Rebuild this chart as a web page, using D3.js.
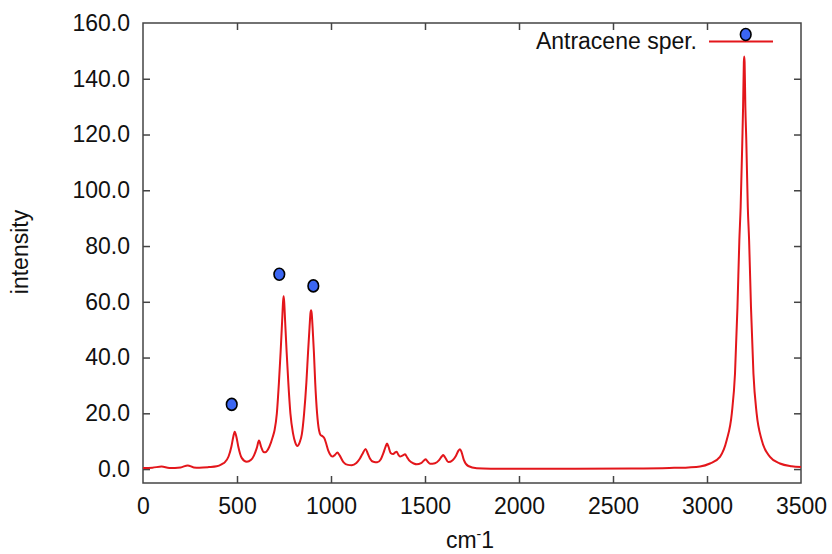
<!DOCTYPE html>
<html><head><meta charset="utf-8">
<script src="https://cdn.jsdelivr.net/npm/d3@7"></script>
<style>
html,body{margin:0;padding:0;background:#fff;}
text{font-family:"Liberation Sans",Arial,Helvetica,sans-serif;fill:#111;}
</style></head>
<body>
<svg id="chart" width="832" height="554"></svg>
<script>
// Spectrum (wavenumber cm-1, intensity)
const waveNumbers = [0,50,99,140,200,238,270,300,350,392,420,436,455,470,480,488,497,507,525,552,575,590,605,617,628,640,650,672,690,700,712,723,732,740,745,748,751,756,764,773,784,798,810,821,833,845,857,869,878,886,891,894,897,902,909,916,926,936,945,955,965,975,986,1000,1009,1020,1034,1045,1066,1090,1110,1135,1154,1168,1184,1196,1207,1225,1246,1265,1278,1290,1298,1306,1317,1331,1340,1349,1358,1367,1380,1394,1405,1417,1440,1456,1479,1493,1504,1515,1527,1553,1575,1590,1597,1606,1624,1647,1665,1678,1686,1694,1707,1730,1775,1850,2000,2300,2600,2800,2900,2963,3016,3069,3105,3132,3149,3162,3172,3179,3188,3192,3196,3198,3200,3204,3209,3217,3224,3234,3247,3264,3291,3335,3388,3450,3500];
const intensities = [0.4,0.5,0.9,0.4,0.6,1.3,0.6,0.5,0.7,1.0,1.8,2.5,4.5,8.0,11.5,13.4,11.5,8.0,4.0,2.6,3.3,4.8,7.5,10.2,8.0,6.2,6.0,8.0,11.5,14,20,31,42,53,60,62,60,53,42,31,20,12.8,9.5,8.3,9.5,12.5,20,31,42,51,56,57,56,51,42,31,20,14,12.2,11.8,11.0,9.0,6.5,4.8,4.5,5.0,5.9,5.0,2.5,1.5,1.4,2.2,3.8,5.5,7.2,5.5,3.8,2.6,2.4,3.5,5.6,8.0,9.2,8.0,5.8,5.4,5.9,6.2,5.2,4.5,4.8,5.3,4.2,3.0,2.0,1.7,2.1,3.0,3.5,2.6,1.9,2.1,3.2,4.6,5.0,4.3,2.5,3.2,4.8,6.6,7.1,6.2,3.2,1.1,0.3,0.15,0.1,0.1,0.2,0.4,0.6,0.9,2.0,4.4,10.4,20,34.3,58,82,94,118,130,146,148,146,130,118,94,82,58,34.3,20,10.4,4.4,2.0,1.0,0.7];
// Marker points overlaid on the chart
const markerX = [472, 725, 906, 3206];
const markerY = [23.2, 69.9, 65.7, 155.9];
// Axis ticks
const xTicks = [0,500,1000,1500,2000,2500,3000,3500];
const yTicks = [0,20,40,60,80,100,120,140,160];
const seriesName = "Antracene sper.";

const svg = d3.select("#chart");
const L = 143, R = 801, T = 23, B = 483;
const x = d3.scaleLinear().domain([0,3500]).range([L,R]);
const y = d3.scaleLinear().domain([-5,160]).range([B,T]);

const axisColor = "#444";
const tickLen = 7;
const fs = 23;

// frame
svg.append("rect").attr("x",L).attr("y",T).attr("width",R-L).attr("height",B-T)
  .attr("fill","none").attr("stroke",axisColor).attr("stroke-width",1.5);

// x ticks (bottom + mirrored top), inward
const xAxisB = d3.axisBottom(x).tickValues(xTicks).tickSize(-tickLen).tickPadding(15).tickFormat(d3.format("d"));
const gxb = svg.append("g").attr("transform",`translate(0,${B})`).call(xAxisB);
const xAxisT = d3.axisTop(x).tickValues(xTicks).tickSize(-tickLen).tickFormat("");
const gxt = svg.append("g").attr("transform",`translate(0,${T})`).call(xAxisT);
const yAxisL = d3.axisLeft(y).tickValues(yTicks).tickSize(-tickLen).tickPadding(13).tickFormat(d3.format(".1f"));
const gyl = svg.append("g").attr("transform",`translate(${L},0)`).call(yAxisL);
const yAxisR = d3.axisRight(y).tickValues(yTicks).tickSize(-tickLen).tickFormat("");
const gyr = svg.append("g").attr("transform",`translate(${R},0)`).call(yAxisR);
[gxb,gxt,gyl,gyr].forEach(g=>{
  g.select(".domain").remove();
  g.selectAll(".tick line").attr("stroke",axisColor).attr("stroke-width",1.5);
  g.selectAll(".tick text").attr("font-size",fs).attr("font-family","Liberation Sans, Arial, sans-serif").attr("fill","#111");
});
// hide mirrored ticks at the frame corners
gxb.selectAll(".tick").filter(d=>d===0||d===3500).select("line").remove();
gxt.selectAll(".tick").filter(d=>d===0||d===3500).select("line").remove();
gyl.selectAll(".tick").filter(d=>d===160).select("line").remove();
gyr.selectAll(".tick").filter(d=>d===160).select("line").remove();

// axis titles
svg.append("text").attr("transform",`translate(28,252) rotate(-90)`)
  .attr("text-anchor","middle").attr("font-size",fs).text("intensity");
const xt = svg.append("text").attr("x",(L+R)/2-2).attr("y",548).attr("text-anchor","middle").attr("font-size",fs);
xt.append("tspan").text("cm");
xt.append("tspan").attr("dy",-9).attr("font-size",14).text("-");
xt.append("tspan").attr("dy",9).text("1");

// spectrum
const pts = waveNumbers.map((w,i)=>[w,intensities[i]]);
const line = d3.line().x(d=>x(d[0])).y(d=>y(d[1])).curve(d3.curveMonotoneX);
svg.append("path").datum(pts).attr("d",line).attr("fill","none")
  .attr("stroke","#e3161b").attr("stroke-width",2).attr("stroke-linejoin","round");

// legend
svg.append("text").attr("x",697).attr("y",49).attr("text-anchor","end").attr("font-size",fs).text(seriesName);
svg.append("line").attr("x1",709).attr("x2",773).attr("y1",41.5).attr("y2",41.5)
  .attr("stroke","#e3161b").attr("stroke-width",2);

// markers
svg.selectAll("ellipse.mk").data(markerX.map((v,i)=>[v,markerY[i]])).enter()
  .append("ellipse").attr("class","mk")
  .attr("cx",d=>x(d[0])).attr("cy",d=>y(d[1])).attr("rx",5.3).attr("ry",6)
  .attr("fill","#3b66f2").attr("stroke","#000").attr("stroke-width",1.6);
</script>
</body></html>
